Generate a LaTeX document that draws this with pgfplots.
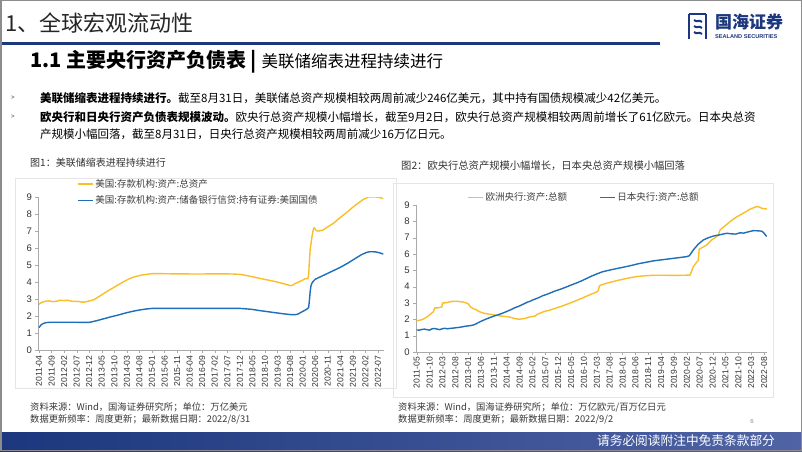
\documentclass[border=0pt]{standalone}
\usepackage{pgfplots}
\pgfplotsset{compat=1.18}
\usepackage{fontspec}
\setmainfont{Liberation Sans}
\newfontfamily\cjk{Noto Sans CJK SC}
\newfontfamily\dejavu{DejaVu Sans}

\definecolor{cgold}{RGB}{250,190,40}
\definecolor{cblue}{RGB}{30,110,185}
\definecolor{navy}{RGB}{28,55,125}
\definecolor{axgray}{RGB}{170,170,170}

% Fed: total assets and Treasury holdings (trillion USD); x = months since 2011-01
\pgfplotstableread{
m v
3.0 2.70
3.5 2.76
4 2.81
5 2.86
6 2.89
7 2.90
8 2.87
9 2.86
10 2.88
11 2.93
12 2.93
13 2.92
14 2.94
15 2.92
16 2.88
17 2.87
18 2.88
19 2.86
20 2.83
21 2.83
22 2.86
23 2.90
24 2.93
25 2.98
26 3.08
27 3.17
28 3.26
29 3.36
30 3.45
31 3.54
32 3.62
33 3.71
34 3.80
35 3.88
36 3.97
37 4.05
38 4.13
39 4.20
40 4.26
41 4.31
42 4.35
43 4.39
44 4.42
45 4.44
46 4.46
47 4.48
48 4.50
52 4.50
56 4.49
60 4.49
64 4.48
68 4.48
72 4.49
76 4.49
80 4.48
83 4.46
85 4.41
88 4.32
91 4.22
94 4.13
97 4.04
100 3.93
103 3.80
104 3.82
105 3.92
106 3.98
107 4.05
108 4.12
109 4.20
110.1 4.20
110.4 4.45
110.7 5.30
111.0 5.90
111.4 6.35
111.8 6.75
112.2 7.05
112.6 7.20
113.0 7.12
113.5 7.02
114.1 7.00
115 7.02
116.1 7.06
118 7.25
120.2 7.45
122 7.68
124.2 7.94
126 8.15
128.2 8.43
130 8.63
132.2 8.86
134.2 9.00
136 9.01
137.5 9.00
139 8.96
140.1 8.91
}\fedtotal

\pgfplotstableread{
m v
3.0 1.33
3.5 1.43
4 1.52
5 1.59
6 1.63
7 1.64
8 1.65
12 1.65
16 1.65
20 1.64
23 1.64
24 1.67
26 1.74
28 1.82
30 1.90
32 1.98
34 2.05
36 2.13
38 2.21
40 2.28
42 2.34
44 2.39
46 2.43
48 2.46
56 2.46
64 2.46
72 2.46
80 2.46
83 2.46
85 2.44
88 2.40
91 2.33
94 2.27
97 2.21
100 2.15
103 2.10
105 2.09
106 2.12
107 2.20
108 2.28
109 2.36
110 2.45
110.4 2.52
110.7 2.95
111.0 3.45
111.3 3.78
111.7 3.94
112.2 4.05
113 4.17
116 4.38
119 4.59
123 4.87
126 5.12
129.7 5.46
131.5 5.62
133.5 5.75
134.8 5.79
137 5.78
138.5 5.73
140.1 5.65
}\fedtsy

% ECB (trillion EUR) and BoJ (hundred trillion JPY)
\pgfplotstableread{
m v
4.0 1.92
5 1.94
6 1.98
7 2.05
8 2.15
9 2.27
10 2.40
10.5 2.47
11.0 2.70
12 2.70
13 2.73
13.8 2.76
14.0 3.00
15 3.01
16 3.03
17 3.08
18 3.10
19 3.11
20 3.10
21 3.08
22 3.06
23 3.02
24 2.95
25 2.75
26 2.65
27 2.60
28 2.50
29 2.43
30 2.38
31 2.35
32 2.32
33 2.30
34 2.27
35 2.25
36 2.22
37 2.20
38 2.18
39 2.17
40 2.15
41 2.10
42 2.05
43 2.02
44 2.01
45 2.03
46 2.05
47 2.10
48 2.15
49 2.18
50 2.20
51 2.32
52 2.38
53 2.45
54 2.50
55 2.53
56 2.58
57 2.63
58 2.68
59 2.74
60 2.78
62 2.90
64 3.02
66 3.15
68 3.28
70 3.42
72 3.55
74 3.68
74.6 3.76
75.0 4.05
76 4.12
78 4.22
80 4.30
82 4.38
84 4.45
86 4.52
88 4.58
90 4.63
92 4.66
94 4.68
96 4.70
100 4.70
104 4.69
108 4.70
110.2 4.71
111.5 5.22
112.8 5.50
113.4 5.60
113.8 6.30
115 6.40
116.7 6.55
118.6 6.86
120 7.00
121.2 7.16
121.9 7.47
123 7.62
125.8 7.98
127.8 8.22
129.7 8.39
131.5 8.55
133.5 8.74
135 8.84
136.1 8.90
137 8.88
138.1 8.80
139.4 8.77
140.05 8.76
}\ecb

\pgfplotstableread{
m v
4 1.35
5 1.34
6 1.38
7 1.40
8 1.37
9 1.34
10 1.42
11 1.44
12 1.40
13 1.37
14 1.43
15 1.45
16 1.42
17 1.45
18 1.46
19 1.48
20 1.50
21 1.52
22 1.55
23 1.58
24 1.60
25 1.62
26 1.65
27 1.72
28 1.80
29 1.88
30 1.95
31 2.02
32 2.08
33 2.14
34 2.20
35 2.25
36 2.30
37 2.35
38 2.42
39 2.48
40 2.55
41 2.62
42 2.70
43 2.76
44 2.82
45 2.90
46 2.97
47 3.05
48 3.10
49 3.18
50 3.24
51 3.30
52 3.37
53 3.45
54 3.50
56 3.62
58 3.75
60 3.85
62 3.97
64 4.10
66 4.22
68 4.35
70 4.50
72 4.65
74 4.78
76 4.90
78 4.98
80 5.05
82 5.12
84 5.18
86 5.25
88 5.32
90 5.40
92 5.46
94 5.52
96 5.58
98 5.62
100 5.66
102 5.70
104 5.74
106 5.78
108 5.82
109 5.84
110 5.90
111.5 6.25
113.4 6.60
115.4 6.86
117.4 7.00
119.3 7.10
121 7.15
122.5 7.20
124.5 7.27
126 7.24
128 7.22
129.7 7.30
131 7.28
133 7.36
134.8 7.43
136.5 7.42
138.1 7.40
139.0 7.28
139.6 7.15
140.05 7.08
}\boj

\pgfplotsset{
  slidechart/.style={
    scale only axis,
    axis x line=bottom, axis y line=left,
    axis line style={axgray,-},
    tick style={axgray},
    tick align=outside, major tick length=3pt,
    ymin=0, ymax=9, ytick={0,...,9},
    xticklabel style={rotate=90, anchor=east, font=\fontsize{8.6}{9}\selectfont, text=black!80, inner sep=2pt},
    yticklabel style={font=\fontsize{9.5}{10}\selectfont, text=black!80},
    /pgf/number format/assume math mode=true,
    legend cell align=left,
    legend style={draw=none, fill=none, inner sep=0pt, font=\cjk\fontsize{9.5}{10}\selectfont, text=black!75,
      row sep=3pt},
    legend image code/.code={\draw[##1] (0pt,0pt) -- (15pt,0pt);},
    every axis plot/.append style={line width=1.4pt, line join=round},
  }
}

\begin{document}
\begin{tikzpicture}[x=1pt, y=1pt]
\useasboundingbox (0,0) rectangle (802,451);
\fill[white] (0,0) rectangle (802,451);

% slide header
\node[anchor=west, inner sep=0pt, text=black!85] at (5,428) {\cjk\fontsize{22}{22}\selectfont 1、全球宏观流动性};
\fill[navy] (0,405.5) rectangle (660,408.5);
\node[anchor=west, inner sep=0pt] at (30,389) {\cjk{\fontsize{20}{20}\selectfont\bfseries 1.1 主要央行资产负债表 | }{\fontsize{16.5}{17}\selectfont 美联储缩表进程持续进行}};

% logo
\begin{scope}[navy, line width=2pt]
  \draw (689,437) -- (706,437);
  \draw (689,437) -- (689,412);
  \draw (694,431) .. controls (697,428) and (699,432) .. (702,429);
  \draw (694,425) .. controls (697,422) and (699,426) .. (702,423);
  \draw (694,419) .. controls (697,416) and (699,420) .. (702,417);
  \draw (706,437) -- (706,412);
\end{scope}
\node[anchor=west, inner sep=0pt, text=navy] at (715,429) {\cjk\fontsize{17}{17}\selectfont\bfseries 国海证券};
\node[anchor=west, inner sep=0pt, text=navy] at (715,414) {\fontsize{5.6}{6}\selectfont\bfseries SEALAND SECURITIES};

% bullets
\node[text=black!55] at (13,353) {\fontsize{6}{6}\selectfont\textbf{>}};
\node[text=black!55] at (13,334) {\fontsize{6}{6}\selectfont\textbf{>}};
\node[anchor=west, inner sep=0pt] at (40,353) {\cjk\fontsize{11.5}{12}\selectfont{\bfseries 美联储缩表进程持续进行。}截至8月31日，美联储总资产规模相较两周前减少246亿美元，其中持有国债规模减少42亿美元。};
\node[anchor=west, inner sep=0pt] at (40,334) {\cjk\fontsize{11.5}{12}\selectfont{\bfseries 欧央行和日央行资产负债表规模波动。}欧央行总资产规模小幅增长，截至9月2日，欧央行总资产规模相较两周前增长了61亿欧元。日本央总资};
\node[anchor=west, inner sep=0pt] at (40,317) {\cjk\fontsize{11.5}{12}\selectfont 产规模小幅回落，截至8月31日，日央行总资产规模相较两周前减少16万亿日元。};

% figure titles
\node[anchor=west, inner sep=0pt, text=black!80] at (30,288) {\cjk\fontsize{10}{10}\selectfont 图1：美联储缩表进程持续进行};
\node[anchor=west, inner sep=0pt, text=black!80] at (401,285) {\cjk\fontsize{10.3}{10}\selectfont 图2：欧央行总资产规模小幅增长，日本央总资产规模小幅回落};

% panels
\draw[black!10] (15,63) rectangle (396,273);
\draw[black!10] (393,54) rectangle (773,268);

% chart 1
\begin{axis}[slidechart,
  at={(38.5pt,100.7pt)}, anchor=south west,
  width=345pt, height=153.3pt,
  xmin=2.8, xmax=140.2,
  xtick={3,8,...,138},
  xticklabels={2011-04,2011-09,2012-02,2012-07,2012-12,2013-05,2013-10,2014-03,2014-08,2015-01,2015-06,2015-11,2016-04,2016-09,2017-02,2017-07,2017-12,2018-05,2018-10,2019-03,2019-08,2020-01,2020-06,2020-11,2021-04,2021-09,2022-02,2022-07},
  legend style={at={(rel axis cs:0.111,1.13)}, anchor=north west},
]
\addplot[cgold] table[x=m, y=v] {\fedtotal};
\addlegendentry{美国:存款机构:资产:总资产}
\addplot[cblue] table[x=m, y=v] {\fedtsy};
\addlegendentry{美国:存款机构:资产:储备银行信贷:持有证券:美国国债}
\end{axis}

% chart 2
\begin{axis}[slidechart,
  at={(416.3pt,99pt)}, anchor=south west,
  width=350.6pt, height=147pt,
  xmin=3.85, xmax=140.1,
  xtick={4,9,...,139},
  xticklabels={2011-05,2011-10,2012-03,2012-08,2013-01,2013-06,2013-11,2014-04,2014-09,2015-02,2015-07,2015-12,2016-05,2016-10,2017-03,2017-08,2018-01,2018-06,2018-11,2019-04,2019-09,2020-02,2020-07,2020-12,2021-05,2021-10,2022-03,2022-08},
  legend columns=2,
  legend style={at={(rel axis cs:0.145,1.10)}, anchor=north west, /tikz/column 2/.style={column sep=30pt}},
]
\addplot[cgold] table[x=m, y=v] {\ecb};
\addlegendentry{欧洲央行:资产:总额}
\addplot[cblue] table[x=m, y=v] {\boj};
\addlegendentry{日本央行:资产:总额}
\end{axis}

% sources
\node[anchor=west, inner sep=0pt, align=left, text=black!78] at (30,43.3) {\cjk\fontsize{9.3}{11.3}\selectfont 资料来源：Wind，国海证券研究所；单位：万亿美元};
\node[anchor=west, inner sep=0pt, align=left, text=black!78] at (30,32) {\cjk\fontsize{9.3}{11.3}\selectfont 数据更新频率：周度更新；最新数据日期：2022/8/31};
\node[anchor=west, inner sep=0pt, align=left, text=black!78] at (398,43.3) {\cjk\fontsize{9.3}{11.3}\selectfont 资料来源：Wind，国海证券研究所；单位：万亿欧元/百万亿日元};
\node[anchor=west, inner sep=0pt, align=left, text=black!78] at (398,32) {\cjk\fontsize{9.3}{11.3}\selectfont 数据更新频率：周度更新；最新数据日期：2022/9/2};
\node[text=black!45] at (752,30) {\fontsize{6}{6}\selectfont 6};

% footer banner
\shade[left color=navy, right color={rgb,255:red,80;green,100;blue,165}] (0,0) rectangle (802,19);
\node[text=white, inner sep=0pt] at (686,10) {\cjk\fontsize{12.7}{13}\selectfont 请务必阅读附注中免责条款部分};

% slide frame
\draw[black!45, line width=1.5pt] (0.75,0.75) rectangle (801.25,450.25);
\end{tikzpicture}
\end{document}
